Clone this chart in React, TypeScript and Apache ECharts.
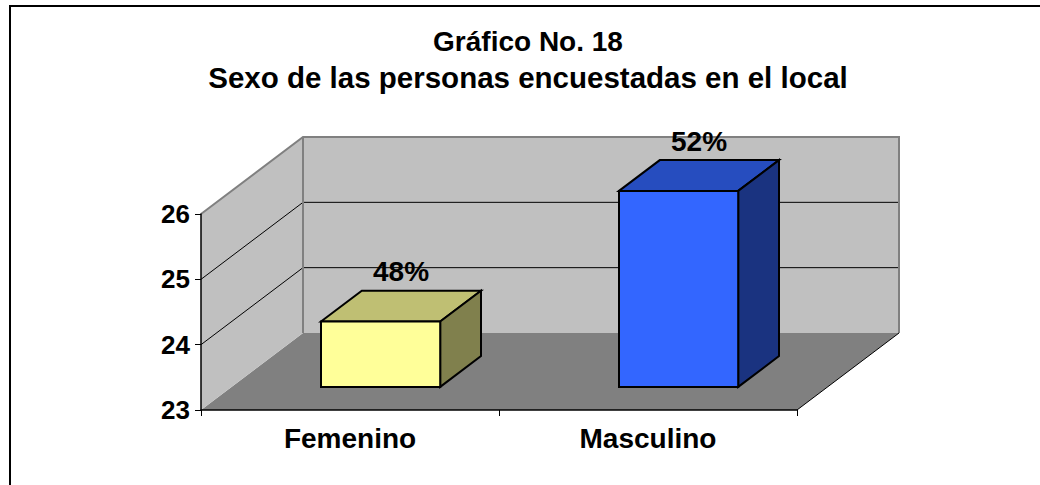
import React, { useEffect, useRef } from 'react';
import * as echarts from 'echarts';

const categories = ['Femenino', 'Masculino'];
const counts = [24, 26];
const percentLabels = ['48%', '52%'];
const yMin = 23;
const yMax = 26;
const yStep = 1;
const titleLines = ['Gráfico No. 18', 'Sexo de las personas encuestadas en el local'];

const DEPTH_X = 102;
const DEPTH_Y = -77;
const BAR_FRONT = 0.3;
const BAR_BACK = 0.7;
const BAR_WIDTH = 0.4;
const FONT = '"Liberation Sans", Arial, sans-serif';

const faceColors = [
  { front: '#FFFF99', top: '#BFBF73', side: '#80804D' },
  { front: '#3366FF', top: '#264DBF', side: '#1A3380' },
];

export default function App() {
  const ref = useRef<HTMLDivElement>(null);

  useEffect(() => {
    if (!ref.current) return;
    const chart = echarts.init(ref.current, undefined, { renderer: 'svg' });

    const wallsRender = (params: any, api: any) => {
      const cs = params.coordSys;
      const x0 = cs.x;
      const x1 = cs.x + cs.width;
      const yb = api.coord([0, yMin])[1];
      const yt = api.coord([0, yMax])[1];
      const children: any[] = [];
      children.push({
        type: 'polygon',
        shape: { points: [[x0, yb], [x1, yb], [x1 + DEPTH_X, yb + DEPTH_Y], [x0 + DEPTH_X, yb + DEPTH_Y]] },
        style: { fill: '#808080', stroke: 'none' },
      });
      children.push({
        type: 'rect',
        shape: { x: x0 + DEPTH_X, y: yt + DEPTH_Y, width: cs.width, height: yb - yt },
        style: { fill: '#C0C0C0', stroke: 'none' },
      });
      children.push({
        type: 'polygon',
        shape: { points: [[x0, yt], [x0 + DEPTH_X, yt + DEPTH_Y], [x0 + DEPTH_X, yb + DEPTH_Y], [x0, yb]] },
        style: { fill: '#C0C0C0', stroke: 'none' },
      });
      for (let v = yMin + yStep; v < yMax; v += yStep) {
        const y = api.coord([0, v])[1];
        children.push({
          type: 'polyline',
          shape: { points: [[x0, y], [x0 + DEPTH_X, y + DEPTH_Y], [x1 + DEPTH_X, y + DEPTH_Y]] },
          style: { fill: 'none', stroke: '#000', lineWidth: 1 },
        });
      }
      children.push({
        type: 'polyline',
        shape: { points: [[x0, yt], [x0 + DEPTH_X, yt + DEPTH_Y], [x1 + DEPTH_X, yt + DEPTH_Y], [x1 + DEPTH_X, yb + DEPTH_Y]] },
        style: { fill: 'none', stroke: '#808080', lineWidth: 2 },
      });
      children.push({
        type: 'line',
        shape: { x1: x0 + DEPTH_X, y1: yt + DEPTH_Y, x2: x0 + DEPTH_X, y2: yb + DEPTH_Y },
        style: { stroke: '#808080', lineWidth: 2 },
      });
      children.push({
        type: 'line',
        shape: { x1: x1, y1: yb, x2: x1 + DEPTH_X, y2: yb + DEPTH_Y },
        style: { stroke: '#000', lineWidth: 1 },
      });
      return { type: 'group', children };
    };

    const barsRender = (params: any, api: any) => {
      const idx = api.value(0);
      const v = api.value(1);
      const base = api.coord([idx, yMin]);
      const top = api.coord([idx, v]);
      const band = api.size([1, 0])[0];
      const w = band * BAR_WIDTH;
      const fx0 = base[0] + BAR_FRONT * DEPTH_X - w / 2;
      const fx1 = fx0 + w;
      const fyB = base[1] + BAR_FRONT * DEPTH_Y;
      const fyT = top[1] + BAR_FRONT * DEPTH_Y;
      const bdx = (BAR_BACK - BAR_FRONT) * DEPTH_X;
      const bdy = (BAR_BACK - BAR_FRONT) * DEPTH_Y;
      const c = faceColors[params.dataIndex % faceColors.length];
      const stroke = { stroke: '#000', lineWidth: 2, lineJoin: 'miter' };
      return {
        type: 'group',
        children: [
          {
            type: 'polygon',
            shape: { points: [[fx0, fyT], [fx0 + bdx, fyT + bdy], [fx1 + bdx, fyT + bdy], [fx1, fyT]] },
            style: { fill: c.top, ...stroke },
          },
          {
            type: 'polygon',
            shape: { points: [[fx1, fyT], [fx1 + bdx, fyT + bdy], [fx1 + bdx, fyB + bdy], [fx1, fyB]] },
            style: { fill: c.side, ...stroke },
          },
          {
            type: 'polygon',
            shape: { points: [[fx0, fyT], [fx1, fyT], [fx1, fyB], [fx0, fyB]] },
            style: { fill: c.front, ...stroke },
          },
          {
            type: 'text',
            x: (fx0 + fx1) / 2 + bdx / 2,
            y: fyT + bdy - 5,
            style: {
              text: percentLabels[params.dataIndex],
              fill: '#000',
              font: `bold 28px ${FONT}`,
              textAlign: 'center',
              textVerticalAlign: 'bottom',
            },
          },
        ],
      };
    };

    chart.setOption({
      animation: false,
      backgroundColor: '#fff',
      title: {
        text: `{a|${titleLines[0]}}\n{b|${titleLines[1]}}`,
        left: 523,
        textAlign: 'center',
        top: 18,
        textStyle: {
          fontSize: 28,
          fontWeight: 'bold',
          fontFamily: FONT,
          lineHeight: 36.5,
          color: '#000',
          rich: {
            a: { fontSize: 28, fontWeight: 'bold', fontFamily: FONT, lineHeight: 36.5, color: '#000' },
            b: { fontSize: 29.5, fontWeight: 'bold', fontFamily: FONT, lineHeight: 36.5, color: '#000' },
          },
        },
      },
      graphic: [
        {
          type: 'rect',
          shape: { x: 10, y: 6, width: 1200, height: 700 },
          style: { fill: 'none', stroke: '#000', lineWidth: 2 },
          z: 100,
        },
      ],
      grid: { left: 201, top: 214, width: 596, height: 196 },
      xAxis: {
        type: 'category',
        data: categories,
        axisLine: { show: true, lineStyle: { color: '#000', width: 1.5 } },
        axisTick: { show: true, length: 6, lineStyle: { color: '#000' } },
        axisLabel: { color: '#000', fontSize: 28, fontWeight: 'bold', fontFamily: FONT, margin: 14 },
        z: 5,
      },
      yAxis: {
        type: 'value',
        min: yMin,
        max: yMax,
        interval: yStep,
        axisLine: { show: true, lineStyle: { color: '#000', width: 1.5 } },
        axisTick: { show: true, length: 6, lineStyle: { color: '#000' } },
        splitLine: { show: false },
        axisLabel: { color: '#000', fontSize: 26, fontWeight: 'bold', fontFamily: FONT, margin: 11 },
        z: 5,
      },
      series: [
        {
          type: 'custom',
          renderItem: wallsRender,
          data: [[0, yMin]],
          z: 1,
          silent: true,
        },
        {
          type: 'custom',
          renderItem: barsRender,
          data: categories.map((_, i) => [i, counts[i]]),
          z: 3,
          silent: true,
        },
      ],
    });

    return () => chart.dispose();
  }, []);

  return (
    <div
      ref={ref}
      style={{ position: 'fixed', left: 0, top: 0, width: 1040, height: 485 }}
    />
  );
}
